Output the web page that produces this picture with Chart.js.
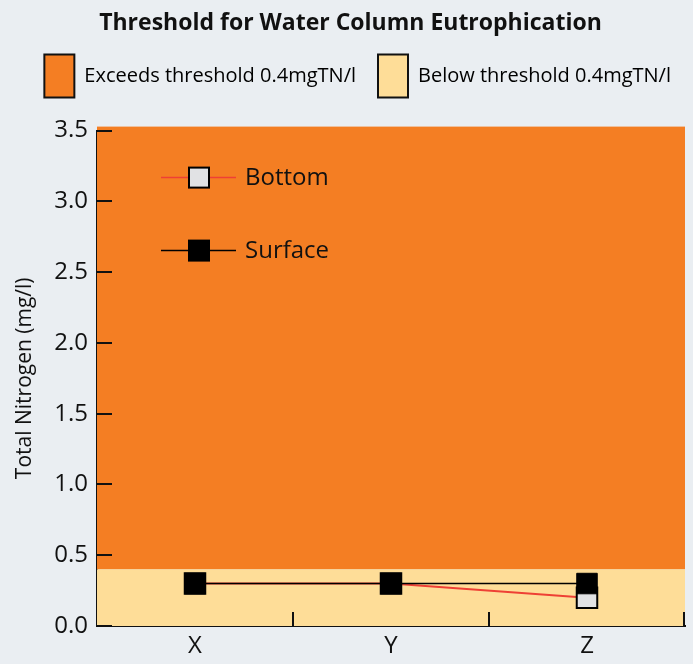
<!DOCTYPE html>
<html>
<head>
<meta charset="utf-8">
<script src="https://cdn.jsdelivr.net/npm/chart.js@4"></script>
<style>
  html, body { margin: 0; padding: 0; background: #eaeef2; }
  #wrap { width: 693px; height: 664px; }
</style>
</head>
<body>
<div id="wrap"><canvas id="tnChart" width="693" height="664"></canvas></div>
<script>
const sites = ['X', 'Y', 'Z'];
const surfaceTN = [0.3, 0.3, 0.3];
const bottomTN = [0.3, 0.3, 0.2];
const yTicks = [0, 0.5, 1.0, 1.5, 2.0, 2.5, 3.0, 3.5];
const threshold = 0.4;
const thresholdLabels = ['Exceeds threshold 0.4mgTN/l', 'Below threshold 0.4mgTN/l'];

const ORANGE = '#f47e23';
const CREAM = '#fedd98';
const RED = '#ee4035';
const GREY = '#e1e2e4';
const FONT = '"Open Sans", "DejaVu Sans", sans-serif';

// threshold bands behind the lines, and inward tick marks
const bandsPlugin = {
    id: 'bands',
    beforeDatasetsDraw(chart) {
        const { ctx, chartArea: a, scales: { y } } = chart;
        const yt = y.getPixelForValue(threshold);
        ctx.save();
        ctx.fillStyle = ORANGE;
        ctx.fillRect(a.left, a.top - 4, a.right - a.left, yt - a.top + 4);
        ctx.fillStyle = CREAM;
        ctx.fillRect(a.left, yt, a.right - a.left, a.bottom - yt);
        ctx.restore();
    },
    afterDraw(chart) {
        const { ctx, chartArea: a, scales: { x, y } } = chart;
        ctx.save();
        ctx.strokeStyle = '#111';
        ctx.lineWidth = 2;
        ctx.beginPath();
        yTicks.forEach(v => {
            const py = Math.round(y.getPixelForValue(v));
            ctx.moveTo(a.left, py);
            ctx.lineTo(a.left + 15, py);
        });
        for (let i = 0; i < sites.length; i++) {
            const px = i < sites.length - 1
                ? Math.round((x.getPixelForValue(i) + x.getPixelForValue(i + 1)) / 2)
                : a.right - 1;
            ctx.moveTo(px, a.bottom);
            ctx.lineTo(px, a.bottom - 14);
        }
        ctx.stroke();
        ctx.restore();
    }
};

// legend for the two series, drawn inside the plot
const innerLegend = {
    id: 'innerLegend',
    afterDraw(chart) {
        const { ctx, chartArea: a } = chart;
        const items = [
            { text: 'Bottom', line: RED, fill: GREY, dy: 47 },
            { text: 'Surface', line: '#000', fill: '#000', dy: 120 }
        ];
        ctx.save();
        items.forEach(it => {
            const yy = a.top + it.dy;
            const x0 = a.left + 64;
            ctx.strokeStyle = it.line;
            ctx.lineWidth = 1.5;
            ctx.beginPath();
            ctx.moveTo(x0, yy);
            ctx.lineTo(x0 + 75, yy);
            ctx.stroke();
            ctx.fillStyle = it.fill;
            ctx.strokeStyle = '#000';
            ctx.lineWidth = 2;
            ctx.fillRect(x0 + 28, yy - 10, 20, 20);
            ctx.strokeRect(x0 + 28, yy - 10, 20, 20);
            ctx.fillStyle = '#111';
            ctx.font = '24px ' + FONT;
            ctx.textBaseline = 'middle';
            ctx.fillText(it.text, x0 + 84, yy + 1);
        });
        ctx.restore();
    }
};

new Chart(document.getElementById('tnChart'), {
    type: 'line',
    data: {
        labels: sites,
        datasets: [
            {
                label: 'Surface',
                data: surfaceTN,
                borderColor: '#000',
                borderWidth: 1.5,
                pointStyle: 'rect',
                pointRadius: 14.5,
                pointBackgroundColor: '#000',
                pointBorderColor: '#000',
                pointBorderWidth: 1,
                tension: 0
            },
            {
                label: 'Bottom',
                data: bottomTN,
                borderColor: RED,
                borderWidth: 2,
                pointStyle: 'rect',
                pointRadius: 14.5,
                pointBackgroundColor: GREY,
                pointBorderColor: '#000',
                pointBorderWidth: 2,
                tension: 0
            }
        ]
    },
    options: {
        responsive: false,
        animation: false,
        layout: { autoPadding: false, padding: { left: 8, right: 0, top: 0, bottom: 0 } },
        scales: {
            x: {
                offset: true,
                grid: { display: false },
                border: { display: true, color: '#111', width: 2 },
                ticks: { color: '#111', font: { family: FONT, size: 24 }, padding: -2 },
                afterFit(s) { s.height = 38; }
            },
            y: {
                min: 0,
                max: 3.5,
                grid: { display: false },
                border: { display: true, color: '#111', width: 2 },
                afterBuildTicks(s) { s.ticks = yTicks.map(v => ({ value: v })); },
                ticks: {
                    color: '#111',
                    font: { family: FONT, size: 24 },
                    padding: 1,
                    callback: v => v.toFixed(1)
                },
                title: {
                    display: true,
                    text: 'Total Nitrogen (mg/l)',
                    color: '#111',
                    font: { family: FONT, size: 21 },
                    padding: { top: 4, bottom: 4 }
                },
                afterFit(s) { s.width = 89; }
            },
            // empty spacer on the right so the plot stops short of the legend edge
            yRight: {
                position: 'right',
                min: 0,
                max: 1,
                grid: { display: false },
                border: { display: false },
                ticks: { display: false },
                afterFit(s) { s.width = 8; }
            }
        },
        plugins: {
            title: {
                display: true,
                text: 'Threshold for Water Column Eutrophication',
                color: '#111',
                font: { family: FONT, size: 23, weight: 'bold' },
                padding: { top: 10, bottom: -5 }
            },
            subtitle: {
                display: true,
                text: '',
                weight: 500,
                font: { size: 10, lineHeight: 1 },
                padding: { top: 0, bottom: 13 }
            },
            legend: {
                display: true,
                align: 'end',
                onClick: null,
                labels: {
                    boxWidth: 30,
                    boxHeight: 43,
                    padding: 22,
                    color: '#111',
                    font: { family: FONT, size: 20 },
                    generateLabels: () => thresholdLabels.map((t, i) => ({
                        text: t,
                        fillStyle: i === 0 ? ORANGE : CREAM,
                        strokeStyle: '#111',
                        lineWidth: 2,
                        hidden: false,
                        index: i
                    }))
                }
            },
            tooltip: { enabled: false }
        }
    },
    plugins: [bandsPlugin, innerLegend]
});
</script>
</body>
</html>
